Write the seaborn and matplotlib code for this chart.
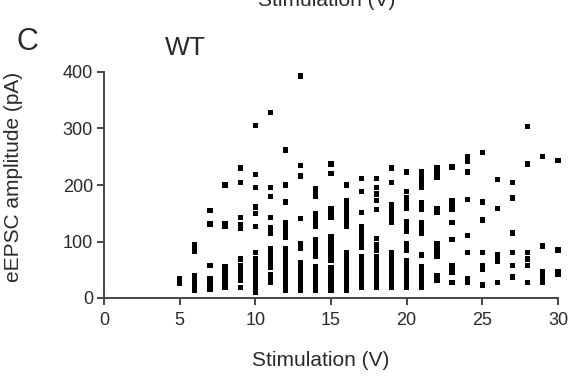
import matplotlib
matplotlib.use("Agg")
import matplotlib.pyplot as plt
import seaborn as sns
import pandas as pd

# Stimulation levels (V) and eEPSC amplitudes (pA) read at each level
stim_levels = [5, 6, 7, 8, 9, 10, 11, 12, 13, 14, 15, 16, 17, 18, 19, 20,
               21, 22, 23, 24, 25, 26, 27, 28, 29, 30]
amp_values = [
    [25, 30, 35],
    [14, 23, 32, 40, 82, 88, 95],
    [155, 131, 58, 15, 20, 25, 30, 34],
    [200, 126, 131, 18, 25, 30, 35, 40, 45, 55],
    [230, 205, 143, 124, 130, 69, 18, 32, 38, 44, 50, 57],
    [306, 219, 195, 161, 149, 126, 10, 15, 20, 28, 35, 40, 48, 55, 63, 70, 80],
    [329, 195, 179, 143, 115, 124, 55, 62, 70, 78, 88, 27, 34, 41],
    [262, 200, 170, 134, 108, 116, 124, 14, 20, 26, 32, 38, 45, 52, 60, 68, 75, 82, 88],
    [393, 234, 216, 140, 88, 93, 97, 14, 20, 26, 33, 40, 47, 55, 62],
    [179, 186, 193, 126, 135, 143, 150, 73, 80, 90, 97, 103, 14, 22, 30, 38, 46, 55],
    [221, 237, 142, 150, 159, 67, 75, 84, 92, 100, 108, 14, 22, 30, 38, 45, 53],
    [200, 126, 135, 145, 155, 164, 173, 62, 71, 80, 14, 22, 30, 38, 46, 53],
    [212, 188, 152, 90, 99, 108, 117, 126, 19, 27, 35, 43, 51, 59, 66, 73],
    [212, 173, 184, 196, 156, 85, 95, 106, 19, 27, 35, 43, 51, 59, 66, 73],
    [230, 205, 133, 141, 149, 157, 165, 19, 27, 35, 43, 51, 59, 66, 73, 80],
    [223, 159, 168, 178, 188, 117, 127, 135, 85, 91, 97, 19, 27, 35, 43, 51, 59, 67],
    [205, 214, 223, 195, 156, 162, 168, 115, 124, 133, 76, 19, 26, 33, 40, 48, 55],
    [214, 222, 230, 152, 159, 73, 81, 89, 97, 32, 40],
    [232, 156, 164, 173, 133, 103, 46, 52, 58, 28],
    [241, 250, 223, 175, 110, 80, 27, 31, 35],
    [257, 170, 138, 80, 50, 58, 23],
    [210, 159, 64, 70, 76, 28],
    [204, 177, 115, 81, 57, 37],
    [303, 237, 81, 69, 57, 27],
    [250, 92, 28, 37, 46],
    [244, 85, 41, 46],
]

x_ticks = [0, 5, 10, 15, 20, 25, 30]
y_ticks = [0, 100, 200, 300, 400]

rows = [(s, a) for s, col in zip(stim_levels, amp_values) for a in col]
df = pd.DataFrame(rows, columns=["stim", "amp"])

sns.set_style("ticks")
plt.rcParams["font.family"] = ["Liberation Sans", "DejaVu Sans"]

txt = "#2a2a2a"
spine = "#4a4444"

fig = plt.figure(figsize=(5.72, 3.79), dpi=100)
fig.patch.set_facecolor("white")
ax = fig.add_axes([104 / 572, 1 - 298 / 379, (558 - 104) / 572, (298 - 72) / 379])

sns.scatterplot(data=df, x="stim", y="amp", ax=ax, marker="s", s=14,
                color="black", edgecolor="none", linewidth=0, clip_on=False,
                legend=False)

ax.set_xlim(0, 30)
ax.set_ylim(0, 400)
ax.set_xticks(x_ticks)
ax.set_yticks(y_ticks)
ax.set_xticklabels([str(t) for t in x_ticks])
ax.set_yticklabels([str(t) for t in y_ticks])
ax.tick_params(axis="both", direction="out", length=5, width=1.4, color=spine,
               labelsize=13, labelcolor=txt)
ax.tick_params(axis="x", pad=5)
ax.tick_params(axis="y", pad=3)
for side in ["top", "right"]:
    ax.spines[side].set_visible(False)
for side in ["left", "bottom"]:
    ax.spines[side].set_color(spine)
    ax.spines[side].set_linewidth(1.4)

ax.set_xlabel("")
ax.set_ylabel("")
fig.text(321 / 572, 1 - 366 / 379, "Stimulation (V)", fontsize=15, color=txt,
         ha="center", va="baseline")
fig.text(14 / 572, 1 - 177 / 379, "eEPSC amplitude (pA)", fontsize=15, color=txt,
         ha="center", va="center", rotation=90)

fig.text(17 / 572, 1 - 50 / 379, "C", fontsize=22, color=txt, ha="left", va="baseline")
fig.text(165 / 572, 1 - 55 / 379, "WT", fontsize=19, color=txt, ha="left", va="baseline")
fig.text(327 / 572, 1 - 6 / 379, "Stimulation (V)", fontsize=15, color=txt,
         ha="center", va="baseline")

fig.savefig("out.png", dpi=100, facecolor="white")
